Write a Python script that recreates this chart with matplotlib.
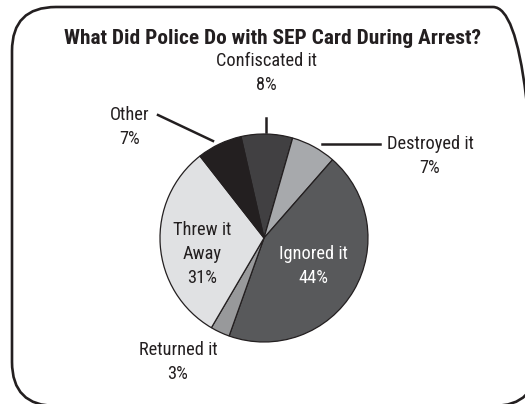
import matplotlib
matplotlib.use("Agg")
import matplotlib.pyplot as plt
from matplotlib import font_manager
from matplotlib.patches import FancyBboxPatch

# Data
categories = ["Confiscated it", "Destroyed it", "Ignored it", "Returned it", "Threw it\nAway", "Other"]
values = [8, 7, 44, 3, 31, 7]
colors = ["#414042", "#a7a9ac", "#58595b", "#98999b", "#e0e1e3", "#231f20"]
title = "What Did Police Do with SEP Card During Arrest?"

# narrow sans font if one is installed
installed = {f.name for f in font_manager.fontManager.ttflist}
prefs = ["Roboto Condensed", "Liberation Sans Narrow", "DejaVu Sans"]
family = next(p for p in prefs if p in installed)
plt.rcParams["font.family"] = [family, "DejaVu Sans"]
txt = "#231f20"

W, H = 525, 404
fig = plt.figure(figsize=(W / 100, H / 100), dpi=100)
ax = fig.add_axes([0, 0, 1, 1])


def Y(y):
    # pixel row -> data y
    return H - y


cx, cy, r = 264, Y(238), 104
ax.pie(values, colors=colors, startangle=102.8, counterclock=False,
       center=(cx, cy), radius=r, frame=True,
       wedgeprops=dict(edgecolor="#231f20", linewidth=0.9))
ax.set_xlim(0, W)
ax.set_ylim(0, H)
ax.set_aspect("equal")
ax.axis("off")

# rounded frame, right and bottom edges run past the canvas
frame = FancyBboxPatch((12, Y(406)), 525, 399, boxstyle="round,pad=0,rounding_size=44",
                       fill=False, edgecolor="#231f20", linewidth=1.9, clip_on=False)
ax.add_patch(frame)

ax.text(273, Y(38), title, ha="center", va="center", fontsize=15.4,
        fontweight="bold", color=txt)

fs = 13.2
ls = 1.45
# outside labels
ax.text(266, Y(73), f"{categories[0]}\n{values[0]}%", ha="center", va="center",
        fontsize=fs, color=txt, linespacing=ls)
ax.plot([266, 266], [Y(118), Y(132)], color=txt, lw=1.8)

ax.text(430, Y(156), f"{categories[1]}\n{values[1]}%", ha="center", va="center",
        fontsize=fs, color=txt, linespacing=ls)
ax.plot([322, 380], [Y(144), Y(144)], color=txt, lw=1.8)

ax.text(130, Y(127), f"{categories[5]}\n{values[5]}%", ha="center", va="center",
        fontsize=fs, color=txt, linespacing=ls)
ax.plot([158, 213], [Y(115), Y(141)], color=txt, lw=1.8)

ax.text(178, Y(362), f"{categories[3]}\n{values[3]}%", ha="center", va="center",
        fontsize=fs, color=txt, linespacing=ls)

# inside labels
ax.text(202, Y(254), f"{categories[4]}\n{values[4]}%", ha="center", va="center",
        fontsize=fs, color=txt, linespacing=ls)
ax.text(313, Y(266), f"{categories[2]}\n{values[2]}%", ha="center", va="center",
        fontsize=fs, color="white", linespacing=ls)

fig.savefig("out.png", dpi=100)
